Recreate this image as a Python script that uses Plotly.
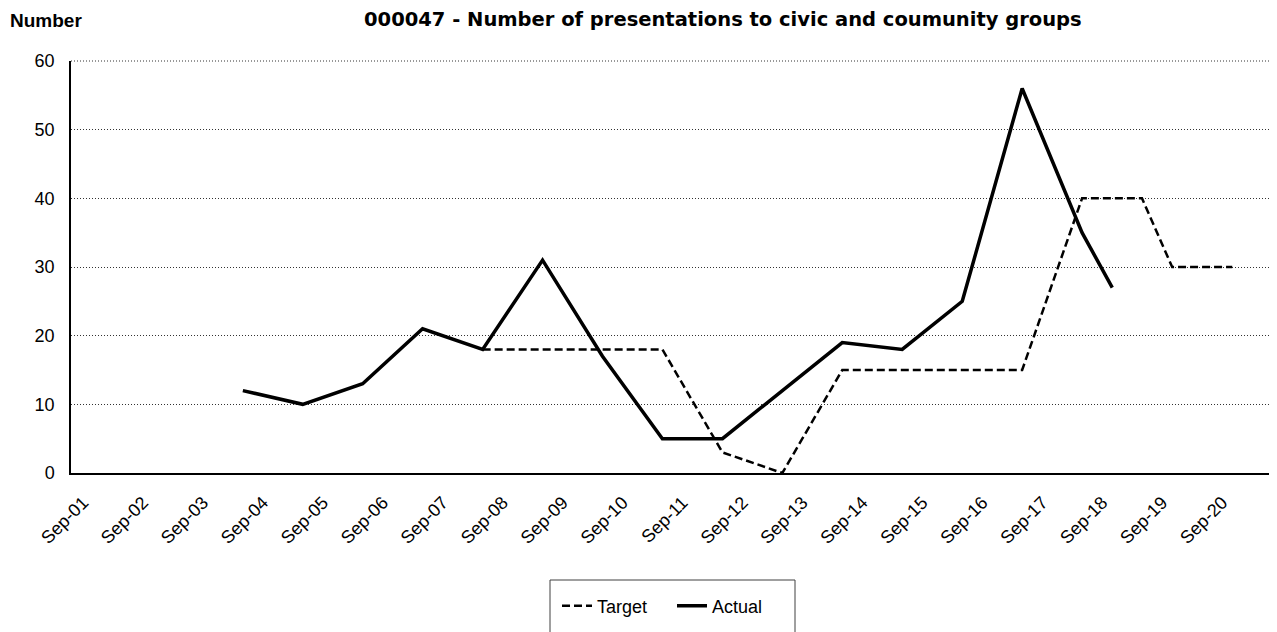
import plotly.graph_objects as go

# Data
actual_dates = ["2004-05-01", "2005-05-01", "2006-05-01", "2007-05-01", "2008-05-01",
                "2009-05-01", "2010-05-01", "2011-05-01", "2012-05-01", "2013-05-01",
                "2014-05-01", "2015-05-01", "2016-05-01", "2017-05-01", "2018-05-01",
                "2018-11-01"]
actual_values = [12, 10, 13, 21, 18, 31, 17, 5, 5, 12, 19, 18, 25, 56, 35, 27]

target_dates = ["2008-05-01", "2009-05-01", "2010-05-01", "2011-05-01", "2012-05-01",
                "2013-05-01", "2014-05-01", "2015-05-01", "2016-05-01", "2017-05-01",
                "2018-05-01", "2019-05-01", "2019-11-01", "2020-11-01"]
target_values = [18, 18, 18, 18, 3, 0, 15, 15, 15, 15, 40, 40, 30, 30]

tick_dates = [f"{y}-09-01" for y in range(2001, 2021)]
tick_labels = [f"Sep-{y % 100:02d}" for y in range(2001, 2021)]
y_ticks = [0, 10, 20, 30, 40, 50, 60]

FONT = "Liberation Sans, Arial, sans-serif"
TITLE_FONT = "DejaVu Sans, Liberation Sans, Arial, sans-serif"

# page offset of the figure (default body margin of the html page)
OFF = 8
# plot area in page pixels
L, R, T, B = 71, 1270, 61, 473
W, H = 1277 - OFF, 632 - OFF


def px_x(px):
    return (px - L) / (R - L)


def px_y(py):
    return (B - py) / (B - T)


fig = go.Figure()
fig.add_trace(go.Scatter(
    x=target_dates, y=target_values, name="Target", mode="lines",
    line=dict(color="black", width=2.5, dash="8px,4px"),
))
fig.add_trace(go.Scatter(
    x=actual_dates, y=actual_values, name="Actual", mode="lines",
    line=dict(color="black", width=3.5),
))

fig.update_layout(
    width=W, height=H,
    margin=dict(l=L - OFF, r=1277 - R, t=T - OFF, b=H - (B - OFF), autoexpand=False),
    paper_bgcolor="white", plot_bgcolor="white",
    font=dict(family=FONT, size=18, color="black"),
    showlegend=True,
    legend=dict(
        orientation="h", xref="paper", yref="paper",
        x=px_x(557), xanchor="left", y=px_y(606), yanchor="middle",
        borderwidth=0, bgcolor="rgba(0,0,0,0)",
        font=dict(family=FONT, size=18), itemwidth=30,
        entrywidth=70, entrywidthmode="pixels",
    ),
    xaxis=dict(
        type="date", range=["2001-06-19", "2021-06-19"],
        tickmode="array", tickvals=tick_dates, ticktext=tick_labels,
        tickangle=-45, showgrid=False, zeroline=False,
        showline=True, linecolor="black", linewidth=2,
        ticks="", ticklabelstandoff=10, tickfont=dict(family=FONT, size=18),
    ),
    yaxis=dict(
        range=[0, 60], tickmode="array", tickvals=y_ticks,
        showgrid=True, gridcolor="#333333", gridwidth=1, griddash="1px,2px",
        zeroline=False, showline=True, linecolor="black", linewidth=1.5,
        ticks="", ticklabelstandoff=11, tickfont=dict(family=FONT, size=18),
    ),
    annotations=[
        dict(text="<b>Number</b>", xref="paper", yref="paper",
             x=px_x(8), y=px_y(28), xanchor="left", yanchor="bottom", yshift=-5,
             showarrow=False, font=dict(family=FONT, size=19)),
        dict(text="<b>000047 - Number of presentations to civic and coumunity groups</b>",
             xref="paper", yref="paper",
             x=px_x(362), y=px_y(28), xanchor="left", yanchor="bottom", yshift=-5,
             showarrow=False, font=dict(family=TITLE_FONT, size=19.5)),
    ],
    shapes=[
        # right border of plot area
        dict(type="line", xref="paper", yref="paper", x0=1, x1=1, y0=0, y1=1,
             line=dict(color="#666666", width=1.5)),
        # top border (dotted, like the gridlines)
        dict(type="line", xref="paper", yref="paper", x0=0, x1=1, y0=1, y1=1,
             line=dict(color="#333333", width=1, dash="1px,2px")),
        # legend box (continues past the bottom edge)
        dict(type="rect", xref="paper", yref="paper",
             x0=px_x(550), x1=px_x(795), y0=px_y(645), y1=px_y(580),
             line=dict(color="#404040", width=1), fillcolor="rgba(0,0,0,0)"),
    ],
)

fig.write_html("out.html")
